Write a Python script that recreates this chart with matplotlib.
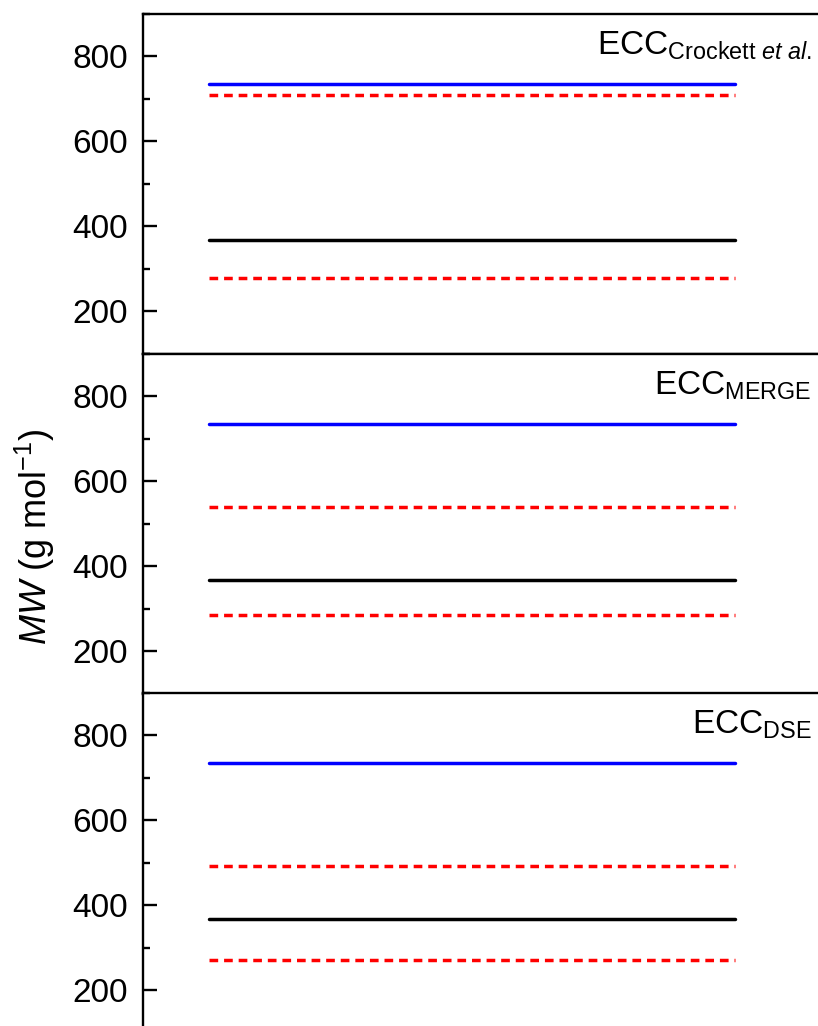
import matplotlib
matplotlib.use('Agg')
import matplotlib.pyplot as plt
from matplotlib.ticker import MultipleLocator

plt.rcParams['font.family'] = ['Liberation Sans', 'DejaVu Sans']
plt.rcParams['mathtext.fontset'] = 'custom'
plt.rcParams['mathtext.rm'] = 'Liberation Sans'
plt.rcParams['mathtext.it'] = 'Liberation Sans:italic'

# data
panel_names = [r'ECC$_{\mathrm{Crockett}\ \mathit{et\ al.}}$',
               r'ECC$_{\mathrm{MERGE}}$',
               r'ECC$_{\mathrm{DSE}}$']
blue_mw = [735, 735, 735]
black_mw = [367, 367, 367]
red_upper = [709, 540, 491]
red_lower = [278, 284, 271]
x_span = [1, 9]
y_ticks = [200, 400, 600, 800]

W, H = 818, 1026
fig = plt.figure(figsize=(W / 100, H / 100), dpi=100)

left = 143 / W
width = 723 / W
ph = 340 / H
tops = [13.5, 353.5, 692.5]

for i, top in enumerate(tops):
    ax = fig.add_axes([left, 1 - (top + 340) / H, width, ph])
    ax.set_xlim(0, 11)
    ax.set_ylim(100, 900)
    ax.plot(x_span, [blue_mw[i]] * 2, color='#0000ff', lw=2.5, solid_capstyle='round')
    ax.plot(x_span, [black_mw[i]] * 2, color='black', lw=2.5, solid_capstyle='round')
    ax.plot(x_span, [red_upper[i]] * 2, color='#ff0000', lw=2.5, dashes=(2.5, 1.7))
    ax.plot(x_span, [red_lower[i]] * 2, color='#ff0000', lw=2.5, dashes=(2.5, 1.7))

    ax.set_yticks(y_ticks)
    ax.yaxis.set_minor_locator(MultipleLocator(100))
    ax.tick_params(axis='y', which='major', direction='in', length=10, width=1.7,
                   labelsize=24, pad=11)
    ax.tick_params(axis='y', which='minor', direction='in', length=5, width=1.7)
    ax.tick_params(axis='x', which='both', bottom=False, top=False, labelbottom=False)
    for sp in ax.spines.values():
        sp.set_linewidth(1.7)

    ax.text(0.925, 1 - 41.5 / 340, panel_names[i], transform=ax.transAxes,
            ha='right', va='baseline', fontsize=24)

fig.text(35 / W, 1 - 537 / H, r'$\mathit{MW}$ (g mol$^{-1}$)', rotation=90,
         ha='center', va='center', fontsize=26)

fig.savefig('out.png', dpi=100)
